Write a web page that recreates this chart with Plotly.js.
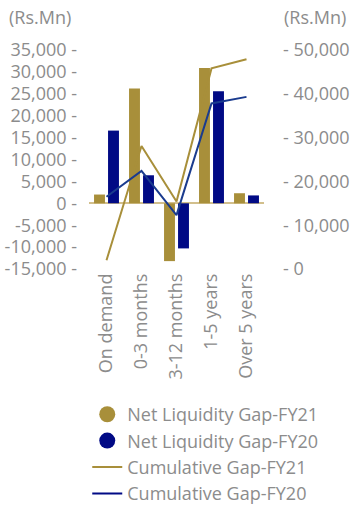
<!DOCTYPE html>
<html>
<head>
<meta charset="utf-8">
<script src="https://cdn.plot.ly/plotly-3.0.1.min.js"></script>
<style>html,body{margin:0;padding:0;background:#fff;}#chart{width:352px;height:506px;}</style>
</head>
<body>
<div id="chart"></div>
<script>
const categories = ["On demand", "0-3 months", "3-12 months", "1-5 years", "Over 5 years"];
const netGapFY21 = [2000, 26200, -13200, 30900, 2300];
const netGapFY20 = [16600, 6400, -10300, 25600, 1800];
const cumGapFY21 = [2000, 28100, 15400, 45800, 47900];
const cumGapFY20 = [16500, 22400, 12300, 37800, 39300];
const leftTicks = [-15000, -10000, -5000, 0, 5000, 10000, 15000, 20000, 25000, 30000, 35000];
const rightTicks = [0, 10000, 20000, 30000, 40000, 50000];

const gold = "#A88F3A";
const navy = "#010A85";
const lineBlue = "#1A3B8E";
const grey = "#8c8c8c";
const fmt = v => v.toLocaleString("en-US");

const traces = [
  {type: "bar", x: categories, y: netGapFY21, name: "Net Liquidity Gap-FY21", marker: {color: gold}, showlegend: false, yaxis: "y"},
  {type: "bar", x: categories, y: netGapFY20, name: "Net Liquidity Gap-FY20", marker: {color: navy}, showlegend: false, yaxis: "y"},
  {type: "scatter", mode: "lines", x: categories, y: cumGapFY21, name: "Cumulative Gap-FY21", line: {color: gold, width: 2}, yaxis: "y2", showlegend: false},
  {type: "scatter", mode: "lines", x: categories, y: cumGapFY20, name: "Cumulative Gap-FY20", line: {color: lineBlue, width: 2}, yaxis: "y2", showlegend: false},
  {type: "scatter", mode: "markers", x: [null], y: [null], name: "Net Liquidity Gap-FY21", marker: {color: gold, size: 17, symbol: "circle"}},
  {type: "scatter", mode: "markers", x: [null], y: [null], name: "Net Liquidity Gap-FY20", marker: {color: navy, size: 17, symbol: "circle"}},
  {type: "scatter", mode: "lines", x: [null], y: [null], name: "Cumulative Gap-FY21", line: {color: gold, width: 2}},
  {type: "scatter", mode: "lines", x: [null], y: [null], name: "Cumulative Gap-FY20", line: {color: navy, width: 2}}
];

const layout = {
  width: 352, height: 506,
  margin: {l: 89, r: 88, t: 50, b: 237, autoexpand: false},
  paper_bgcolor: "#fff", plot_bgcolor: "#fff",
  font: {family: "Open Sans", size: 18, color: grey},
  barmode: "group", bargap: 0.2, bargroupgap: 0.22,
  showlegend: true,
  xaxis: {type: "category", tickangle: -90, automargin: false, showgrid: false, zeroline: false, showline: false, ticks: "", tickfont: {size: 18, color: grey}},
  yaxis: {range: [-15000, 35000], automargin: false, tickvals: leftTicks, ticktext: leftTicks.map(v => fmt(v) + " -"), showgrid: false, zeroline: true, zerolinecolor: "#D2BF8C", zerolinewidth: 2, showline: false, ticks: "", ticklabelstandoff: 11, tickfont: {size: 18, color: grey}},
  yaxis2: {overlaying: "y", side: "right", automargin: false, range: [0, 50000], tickvals: rightTicks, ticktext: rightTicks.map(v => "- " + fmt(v)), showgrid: false, zeroline: false, showline: false, ticks: "", ticklabelstandoff: 18, tickfont: {size: 18, color: grey}},
  legend: {x: -0.01, xanchor: "left", y: -0.58, yanchor: "top", orientation: "v", font: {size: 18, color: grey}, itemwidth: 30, tracegroupgap: 0, bgcolor: "rgba(0,0,0,0)"},
  annotations: [
    {text: "(Rs.Mn)", xref: "paper", yref: "paper", x: -0.47, y: 1.15, xanchor: "left", yanchor: "middle", showarrow: false, font: {size: 18, color: grey}},
    {text: "(Rs.Mn)", xref: "paper", yref: "paper", x: 1.1, y: 1.15, xanchor: "left", yanchor: "middle", showarrow: false, font: {size: 18, color: grey}}
  ]
};

Plotly.newPlot("chart", traces, layout, {displayModeBar: false, staticPlot: true});
</script>
</body>
</html>
